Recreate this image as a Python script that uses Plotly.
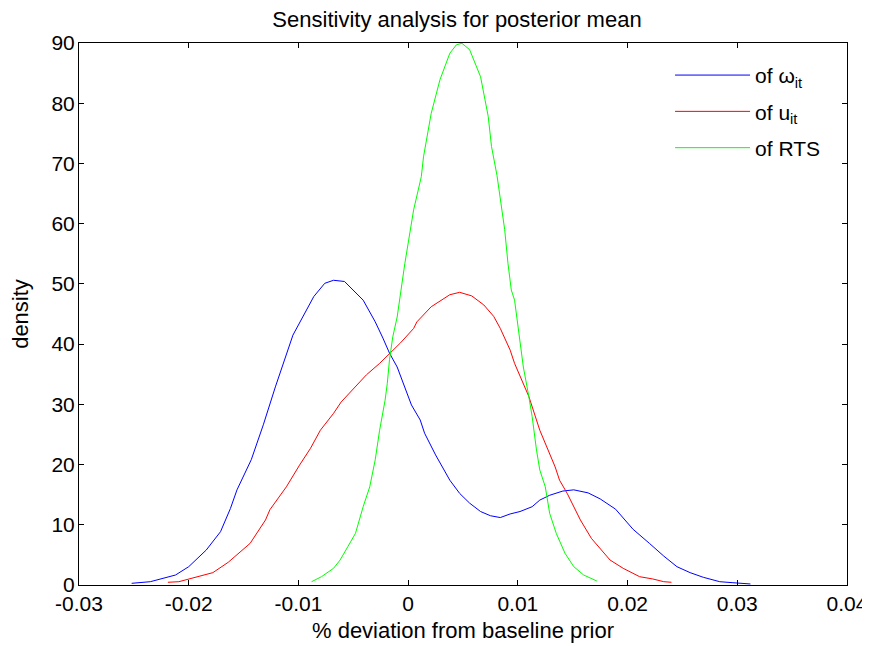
import plotly.graph_objects as go

# ---- data ----
omega_x = [-0.0252, -0.0235, -0.0212, -0.0200, -0.0184, -0.0171, -0.0162, -0.0156, -0.0143,
           -0.0132, -0.0121, -0.0115, -0.0105, -0.0086, -0.0076, -0.0068, -0.0058, -0.0041,
           -0.0030, -0.0023, -0.0017, -0.0010, -0.0004, 0.0003, 0.0011, 0.0015, 0.0025,
           0.0034, 0.0038, 0.0047, 0.0056, 0.0066, 0.0075, 0.0084, 0.0093, 0.0102, 0.0113,
           0.0120, 0.0129, 0.0141, 0.0151, 0.0164, 0.0175, 0.0189, 0.0198, 0.0205, 0.0220,
           0.0233, 0.0245, 0.0257, 0.0269, 0.0284, 0.0296, 0.0312]
omega_y = [0.28, 0.55, 1.66, 3.04, 5.81, 8.85, 12.7, 15.8, 20.8,
           26.6, 32.9, 36.0, 41.5, 47.9, 50.1, 50.6, 50.4, 47.3,
           43.7, 41.0, 38.5, 36.2, 33.2, 29.9, 27.4, 25.2, 21.6,
           18.8, 17.4, 15.2, 13.6, 12.2, 11.5, 11.2, 11.8, 12.2, 13.0,
           14.1, 14.9, 15.6, 15.8, 15.3, 14.3, 12.6, 10.8, 9.25, 6.9,
           4.8, 3.04, 2.05, 1.28, 0.55, 0.38, 0.17]

u_x = [-0.0219, -0.0209, -0.0178, -0.0164, -0.0144, -0.0130, -0.0126, -0.0111, -0.0099,
       -0.0089, -0.0080, -0.0068, -0.0061, -0.0047, -0.0038, -0.0026, -0.0016, -0.0007,
       0.0005, 0.0008, 0.0021, 0.0031, 0.0038, 0.0047, 0.0058, 0.0069, 0.0078, 0.0084,
       0.0093, 0.0097, 0.0110, 0.0120, 0.0129, 0.0134, 0.0138, 0.0145, 0.0157, 0.0167,
       0.0184, 0.0196, 0.0211, 0.0223, 0.0233, 0.0240]
u_y = [0.45, 0.55, 2.05, 3.77, 6.92, 10.8, 12.5, 16.3, 19.9,
       22.7, 25.7, 28.5, 30.4, 33.2, 34.9, 36.8, 38.6, 40.2,
       42.6, 43.7, 46.2, 47.3, 48.2, 48.6, 48.0, 46.5, 44.6, 42.6,
       39.0, 36.8, 31.3, 25.7, 21.9, 19.6, 17.4, 15.2, 10.8, 7.75,
       4.15, 2.77, 1.38, 1.0, 0.55, 0.45]

rts_x = [-0.0088, -0.0079, -0.0068, -0.0062, -0.0055, -0.0048, -0.0041, -0.0035, -0.0030,
         -0.0026, -0.0021, -0.0019, -0.0017, -0.0014, -0.0010, -0.0003, 0.0005, 0.0012,
         0.0014, 0.0021, 0.0029, 0.0038, 0.0044, 0.0049, 0.0056, 0.0062, 0.0066, 0.0073,
         0.0076, 0.0081, 0.0088, 0.0091, 0.0094, 0.0097, 0.0100, 0.0105, 0.0110, 0.0113,
         0.0117, 0.0120, 0.0125, 0.0129, 0.0135, 0.0143, 0.0151, 0.0160, 0.0172]
rts_y = [0.55, 1.38, 2.77, 4.15, 6.36, 8.58, 13.0, 16.3, 20.8,
         25.7, 30.7, 33.5, 37.4, 41.2, 44.5, 53.4, 62.3, 67.8,
         71.1, 78.3, 83.9, 88.3, 89.7, 89.95, 88.9, 86.1, 84.4, 77.8,
         72.8, 68.0, 59.0, 53.4, 49.0, 47.3, 42.8, 36.2, 31.3, 28.0,
         22.4, 19.1, 16.3, 11.9, 8.58, 5.26, 3.04, 1.66, 0.66]

series_names = ["of ω<sub>it</sub>", "of u<sub>it</sub>", "of RTS"]
series_colors = ["#0000ff", "#ff0000", "#00ff00"]

x_ticks = [-0.03, -0.02, -0.01, 0, 0.01, 0.02, 0.03, 0.04]
x_tick_labels = ["-0.03", "-0.02", "-0.01", "0", "0.01", "0.02", "0.03", "0.04"]
y_ticks = [0, 10, 20, 30, 40, 50, 60, 70, 80, 90]

FONT = "Liberation Sans, Arial, sans-serif"
W, H = 862, 638  # page body has an 8px margin

fig = go.Figure()
for i, (xs, ys, name, col) in enumerate(zip([omega_x, u_x, rts_x], [omega_y, u_y, rts_y],
                                            series_names, series_colors)):
    fig.add_trace(go.Scatter(x=xs, y=ys, mode="lines", name=name, legendgroup=f"g{i}",
                             line=dict(color=col, width=1)))

axis_common = dict(showgrid=False, zeroline=False, showline=True, linecolor="black",
                   linewidth=1, mirror="ticks", ticks="inside", ticklen=5,
                   tickcolor="black", automargin=False,
                   tickfont=dict(family=FONT, size=21, color="black"))

fig.update_layout(
    width=W, height=H,
    paper_bgcolor="white", plot_bgcolor="white",
    margin=dict(l=71, r=23, t=35, b=61),
    title=dict(text="Sensitivity analysis for posterior mean", x=449 / W, xanchor="center",
               y=1 - 11 / H, yanchor="middle",
               font=dict(family=FONT, size=22, color="black")),
    xaxis=dict(range=[-0.03, 0.04], tickvals=x_ticks, ticktext=x_tick_labels,
               title=dict(text="% deviation from baseline prior", standoff=8,
                          font=dict(family=FONT, size=22, color="black")),
               **axis_common),
    yaxis=dict(range=[0, 90], tickvals=y_ticks, ticklabelstandoff=-1,
               title=dict(text="density", standoff=17,
                          font=dict(family=FONT, size=22, color="black")),
               **axis_common),
    legend=dict(x=0.7696, y=0.978, xanchor="left", yanchor="top",
                bgcolor="rgba(0,0,0,0)", borderwidth=0, itemwidth=75,
                tracegroupgap=6,
                font=dict(family=FONT, size=21, color="black")),
    showlegend=True,
)

fig.write_html("out.html")
